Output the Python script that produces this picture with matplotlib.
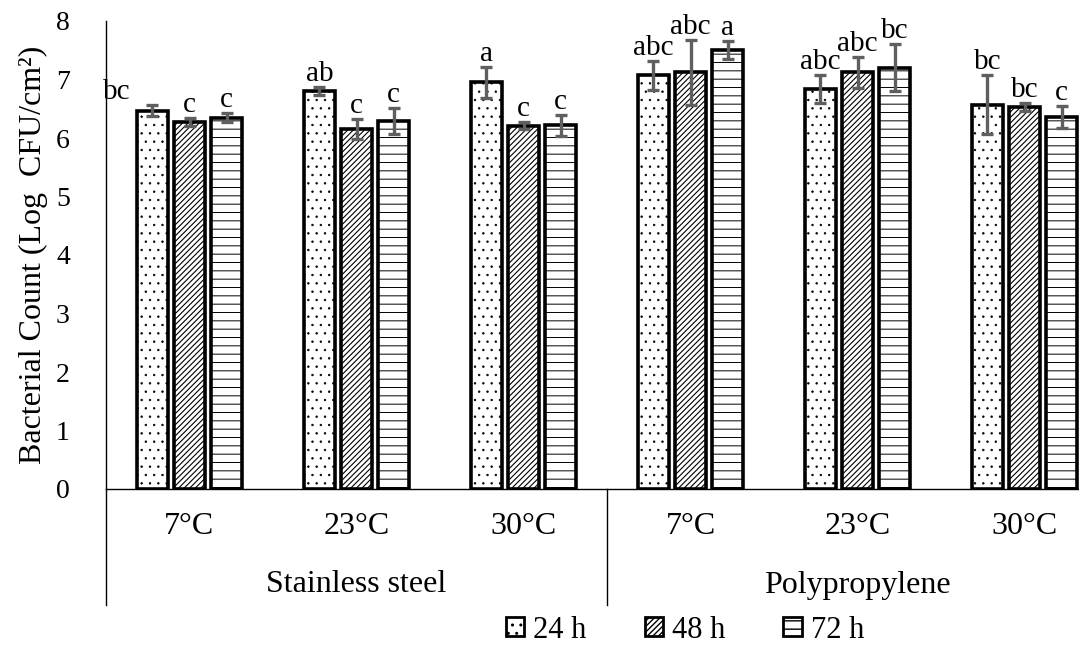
import matplotlib
matplotlib.use("Agg")
import matplotlib.pyplot as plt
import matplotlib.transforms as mtransforms
from matplotlib.patches import Patch
import numpy as np

plt.rcParams['font.family'] = ['Liberation Serif', 'DejaVu Serif']

# data
materials = ['Stainless steel', 'Polypropylene']
temps = ['7°C', '23°C', '30°C', '7°C', '23°C', '30°C']
times = ['24 h', '48 h', '72 h']

mean_24h = [6.47, 6.80, 6.95, 7.07, 6.84, 6.57]
mean_48h = [6.27, 6.16, 6.21, 7.12, 7.12, 6.53]
mean_72h = [6.35, 6.29, 6.22, 7.50, 7.20, 6.36]

err_24h = [0.09, 0.07, 0.27, 0.25, 0.24, 0.50]
err_48h = [0.07, 0.17, 0.06, 0.55, 0.26, 0.07]
err_72h = [0.08, 0.22, 0.18, 0.15, 0.40, 0.19]

letters_24h = ['bc', 'ab', 'a', 'abc', 'abc', 'bc']
letters_48h = ['c', 'c', 'c', 'abc', 'abc', 'bc']
letters_72h = ['c', 'c', 'c', 'a', 'bc', 'c']

means = [mean_24h, mean_48h, mean_72h]
errs = [err_24h, err_48h, err_72h]
letters = [letters_24h, letters_48h, letters_72h]
hatches = ['..', '//////', '--']
hatch_lw = [0.5, 0.8, 0.7]

W, H = 1079, 645
fig = plt.figure(figsize=(W / 100, H / 100), dpi=100)
# axis spans past the right edge of the picture, as in the source
left, bottom, right, top = 106, 489, 1108, 21
ax = fig.add_axes([left / W, (H - bottom) / H, (right - left) / W, (bottom - top) / H])

x = np.arange(len(temps)) + 0.5
width = 0.186
offsets = [-0.222, 0.0, 0.222]

for k in range(3):
    xs = x + offsets[k]
    with plt.rc_context({'hatch.linewidth': hatch_lw[k]}):
        bars = ax.bar(xs, means[k], width, facecolor='white', edgecolor='black',
                      linewidth=2.6, hatch=hatches[k], zorder=2)
    for b in bars:
        if hasattr(b, 'set_hatch_linewidth'):
            b.set_hatch_linewidth(hatch_lw[k])
    ax.errorbar(xs, means[k], yerr=errs[k], fmt='none', ecolor='#5f5f5f',
                elinewidth=2.4, capsize=4.5, capthick=2.4, zorder=3)
    for i in range(len(temps)):
        dx = -36 if (k == 0 and i == 0) else 0
        ax.annotate(letters[k][i], (xs[i], means[k][i] + errs[k][i]),
                    xytext=(dx, 13), textcoords='offset pixels',
                    ha='center', va='center', fontsize=21)

ax.set_xlim(0, 6)
ax.set_ylim(0, 8)
ax.set_yticks(range(9))
ax.set_xticks([])
ax.tick_params(axis='y', length=0, pad=26, labelsize=20)
for s in ['top', 'right']:
    ax.spines[s].set_visible(False)
ax.spines['left'].set_linewidth(1.0)
ax.spines['bottom'].set_linewidth(1.0)
ax.set_ylabel('Bacterial Count (Log  CFU/cm²)', fontsize=23, labelpad=6)

# category and material labels under the axis
trans = mtransforms.blended_transform_factory(ax.transData, ax.transAxes)
px = 1.0 / (bottom - top)
for i, t in enumerate(temps):
    ax.text(x[i], -38 * px, t, transform=trans, ha='center', va='center', fontsize=23)
for j, m in enumerate(materials):
    ax.text(1.5 + 3 * j, -96 * px, m, transform=trans, ha='center', va='center', fontsize=23)
for xd in [0, 3]:
    ax.plot([xd, xd], [0, -116 * px], transform=trans, color='black', lw=1.0, clip_on=False)

handles = [Patch(facecolor='white', edgecolor='black', linewidth=2.0, hatch=h) for h in hatches]
fig.legend(handles, times, loc='center', bbox_to_anchor=(685 / W, 1 - 630 / H), ncol=3,
           frameon=False, fontsize=22, handlelength=0.6, handleheight=0.6,
           handletextpad=0.3, columnspacing=1.9)

fig.savefig('out.png', dpi=100)
